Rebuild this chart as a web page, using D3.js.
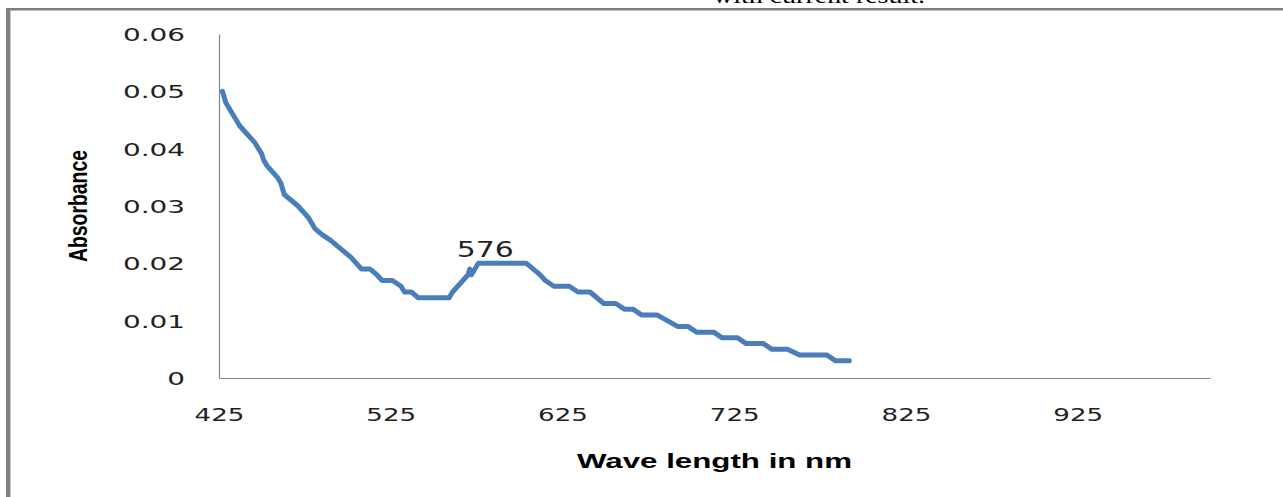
<!DOCTYPE html>
<html><head><meta charset="utf-8">
<script src="https://cdn.jsdelivr.net/npm/d3@7"></script>
<style>body{margin:0;background:#fff;} svg{display:block}</style>
</head><body>
<svg id="c" width="1283" height="497"></svg>
<script>
const wavelengths = [427,429,431,433,435,437,440,443,446,448,450,451,453,456,459,461,463,467,471,474,477,479,481,485,490,494,498,502,505,508,513,517,520,526,531,533,537,541,559,561,564,567,570,571,572,574,576,604,608,612,615,620,629,634,641,645,649,656,661,666,671,680,686,692,698,703,713,718,727,732,742,747,756,763,779,784,792];
const absorbance = [0.050,0.048,0.047,0.046,0.045,0.044,0.043,0.042,0.041,0.040,0.039,0.038,0.037,0.036,0.035,0.034,0.032,0.031,0.030,0.029,0.028,0.027,0.026,0.025,0.024,0.023,0.022,0.021,0.020,0.019,0.019,0.018,0.017,0.017,0.016,0.015,0.015,0.014,0.014,0.015,0.016,0.017,0.018,0.019,0.018,0.019,0.020,0.020,0.019,0.018,0.017,0.016,0.016,0.015,0.015,0.014,0.013,0.013,0.012,0.012,0.011,0.011,0.010,0.009,0.009,0.008,0.008,0.007,0.007,0.006,0.006,0.005,0.005,0.004,0.004,0.003,0.003];
const xTicks = [425,525,625,725,825,925];
const yTicks = [0,0.01,0.02,0.03,0.04,0.05,0.06];
const peakWavelength = 576;
const peakLabel = "576";
const xTitle = "Wave length in nm";
const yTitle = "Absorbance";
const topText = "with current result.";

const svg = d3.select("#c");
const axisColor = "#868686";

// page frame
svg.append("rect").attr("x",6).attr("y",8).attr("width",1277).attr("height",2.5).attr("fill","#7f7f7f");
svg.append("rect").attr("x",6).attr("y",8).attr("width",4).attr("height",489).attr("fill","#7f7f7f");
svg.append("rect").attr("x",10).attr("y",10.5).attr("width",1).attr("height",487).attr("fill","#c8c8c8");

// cropped text from the document above (partly off the top edge, as in the reference)
svg.append("text").attr("x",713).attr("y",3).attr("font-family","Liberation Serif").attr("font-size",20)
  .attr("textLength",212).attr("lengthAdjust","spacingAndGlyphs").attr("fill","#000").text(topText);

const x = d3.scaleLinear().domain([425, 1002]).range([219, 1210]);
const y = d3.scaleLinear().domain([0, 0.06]).range([378, 34]);

function stretch(sel, k){
  sel.each(function(){
    const L = this.getComputedTextLength();
    d3.select(this).attr("textLength", L*k).attr("lengthAdjust","spacingAndGlyphs");
  });
}

const yAxis = svg.append("g").attr("transform",`translate(${x(425)},0)`)
  .call(d3.axisLeft(y).tickValues(yTicks).tickSize(0).tickSizeOuter(0).tickPadding(34)
    .tickFormat(d => d===0 ? "0" : d.toFixed(2)));
yAxis.select(".domain").attr("stroke",axisColor).attr("stroke-width",1.2);
yAxis.selectAll("text").attr("font-family","DejaVu Sans").attr("font-size",18).attr("fill","#222").attr("dy","0.36em");
stretch(yAxis.selectAll("text"), 1.55);

const xAxis = svg.append("g").attr("transform",`translate(0,${y(0)})`)
  .call(d3.axisBottom(x).tickValues(xTicks).tickSize(0).tickSizeOuter(0).tickFormat(d3.format("d")));
xAxis.select(".domain").attr("stroke",axisColor).attr("stroke-width",1.2);
xAxis.selectAll("text").attr("font-family","DejaVu Sans").attr("font-size",18).attr("fill","#222")
  .attr("y",43).attr("dy",0);
stretch(xAxis.selectAll("text"), 1.45);

// line
const pts = wavelengths.map((w,i)=>[w, absorbance[i]]);
svg.append("path").datum(pts)
  .attr("d", d3.line().x(d=>x(d[0])).y(d=>y(d[1])))
  .attr("fill","none").attr("stroke","#4a7ebb").attr("stroke-width",5)
  .attr("stroke-linejoin","round").attr("stroke-linecap","round");

// peak label
const pk = pts.find(d=>d[0]===peakWavelength);
const lbl = svg.append("text").attr("x",x(pk[0])+7).attr("y",y(pk[1])-6).attr("text-anchor","middle")
  .attr("font-family","DejaVu Sans").attr("font-size",21).attr("fill","#222").text(peakLabel);
stretch(lbl, 1.42);

// titles
svg.append("text").attr("x",(x.range()[0]+x.range()[1])/2).attr("y",468).attr("text-anchor","middle")
  .attr("font-family","Liberation Sans").attr("font-weight","bold").attr("font-size",19.5).attr("fill","#000")
  .attr("textLength",275).attr("lengthAdjust","spacingAndGlyphs").text(xTitle);

svg.append("text").attr("transform",`translate(87,${(y.range()[0]+y.range()[1])/2}) rotate(-90) scale(1,1.45)`)
  .attr("text-anchor","middle").attr("font-family","Liberation Sans").attr("font-weight","bold")
  .attr("font-size",18).attr("fill","#000").attr("textLength",112).attr("lengthAdjust","spacingAndGlyphs").text(yTitle);
</script>
</body></html>
